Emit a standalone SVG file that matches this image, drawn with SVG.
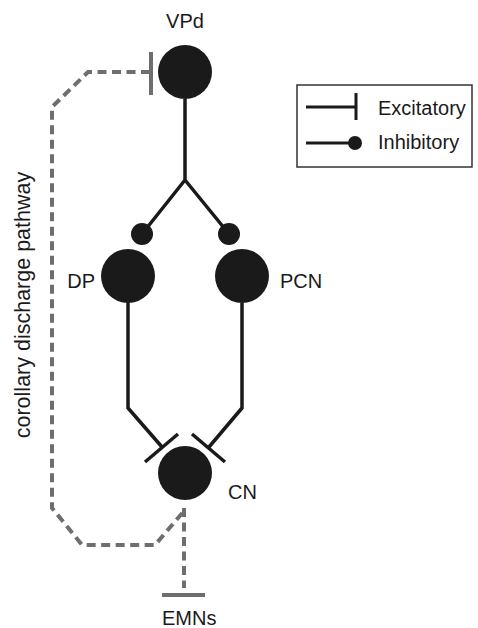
<svg xmlns="http://www.w3.org/2000/svg" width="478" height="628" viewBox="0 0 478 628">
<style>
  .lbl { font-family: "Liberation Sans", Arial, sans-serif; font-size: 20px; fill: #1a1a1a; }
  .node { fill: #1a1a1a; }
  .axon { stroke: #1a1a1a; stroke-width: 3.5; fill: none; stroke-linejoin: miter; }
  .bar { stroke: #1a1a1a; stroke-width: 3.5; fill: none; }
  .dash { stroke: #6e6e6e; stroke-width: 4; fill: none; stroke-dasharray: 9 5.5; }
  .gbar { stroke: #6e6e6e; stroke-width: 4; fill: none; }
</style>
<rect width="478" height="628" fill="#ffffff"/>

<g id="connectors">
  <path class="dash" d="M150 72 H88 L52 107 V508 L82 545 H155 L184 511"/>
  <line class="gbar" x1="151" y1="52" x2="151" y2="95"/>
  <path class="dash" d="M184 508 V588"/>
  <line class="gbar" x1="162" y1="595" x2="205" y2="595"/>
  <path class="axon" d="M185 99 V180 L142 234 M185 180 L229 234"/>
  <circle class="node" cx="142" cy="234" r="11"/>
  <circle class="node" cx="229" cy="234" r="11"/>
  <path class="axon" d="M128 303 V408 L162 447"/>
  <line class="bar" x1="145" y1="462" x2="178" y2="434"/>
  <path class="axon" d="M242 303 V408 L209 447"/>
  <line class="bar" x1="192" y1="434" x2="225" y2="462"/>
</g>

<g id="VPd">
  <circle class="node" cx="185" cy="72" r="27"/>
  <text class="lbl" x="185" y="28" text-anchor="middle">VPd</text>
</g>
<g id="DP">
  <circle class="node" cx="128" cy="276" r="27"/>
  <text class="lbl" x="95" y="288" text-anchor="end">DP</text>
</g>
<g id="PCN">
  <circle class="node" cx="242" cy="276" r="27"/>
  <text class="lbl" x="280" y="288">PCN</text>
</g>
<g id="CN">
  <circle class="node" cx="185" cy="473" r="27"/>
  <text class="lbl" x="228" y="499">CN</text>
</g>
<g id="EMNs">
  <text class="lbl" x="162" y="625">EMNs</text>
</g>
<g id="pathway-label">
  <text class="lbl" style="font-size:21.5px" transform="translate(30 305) rotate(-90)" text-anchor="middle">corollary discharge pathway</text>
</g>

<g id="legend">
  <rect x="297" y="85" width="175" height="82" fill="#ffffff" stroke="#333333" stroke-width="1.5"/>
  <line x1="306" y1="107" x2="356" y2="107" stroke="#1a1a1a" stroke-width="3"/>
  <line x1="356" y1="93" x2="356" y2="120" stroke="#1a1a1a" stroke-width="3"/>
  <text class="lbl" x="378" y="115">Excitatory</text>
  <line x1="306" y1="143" x2="352" y2="143" stroke="#1a1a1a" stroke-width="3"/>
  <circle class="node" cx="355" cy="143" r="7"/>
  <text class="lbl" x="378" y="149">Inhibitory</text>
</g>
</svg>
